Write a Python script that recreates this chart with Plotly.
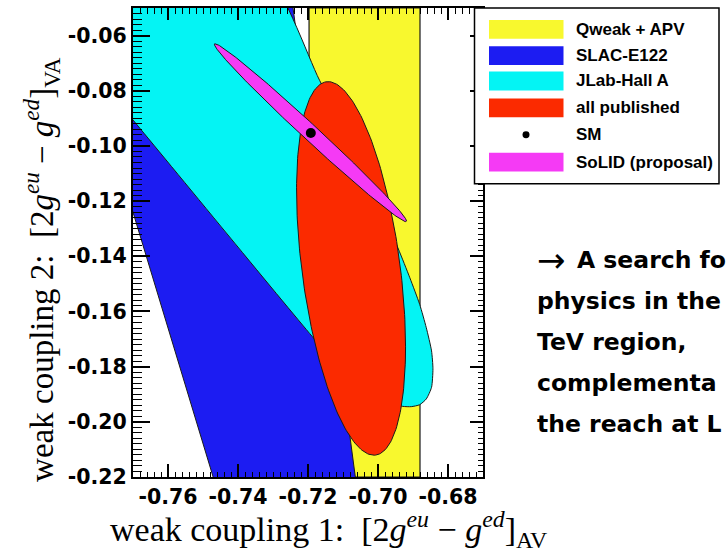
import numpy as np
import plotly.graph_objects as go

# ---------------- data ----------------
x_range = [-0.77, -0.67]
y_range = [-0.22, -0.05]
x_tickvals = [-0.76, -0.74, -0.72, -0.70, -0.68]
x_ticktext = ["-0.76", "-0.74", "-0.72", "-0.70", "-0.68"]
y_tickvals = [-0.22, -0.20, -0.18, -0.16, -0.14, -0.12, -0.10, -0.08, -0.06]
y_ticktext = ["-0.22", "-0.20", "-0.18", "-0.16", "-0.14", "-0.12", "-0.10", "-0.08", "-0.06"]
minor_step = 0.002

# Qweak + APV : vertical band in coupling 1
qweak_x = [-0.7197, -0.6880]

# SLAC-E122 allowed region (boundary polygon, extends past the frame)
slac_x = [-0.7916, -0.7260, -0.7056, -0.7451]
slac_y = [-0.0335, -0.0335, -0.2284, -0.2284]

# JLab-Hall A allowed region (boundary polygon)
jlab_x = [-0.7967, -0.7344, -0.7167, -0.7052, -0.6943, -0.6909, -0.6881, -0.6862,
          -0.6847, -0.6843, -0.6847, -0.6862, -0.6881, -0.6905, -0.6929, -0.6967,
          -0.7009, -0.7058, -0.7115, -0.7181, -0.7700, -0.7967]
jlab_y = [-0.0335, -0.0335, -0.0762, -0.1057, -0.1370, -0.1478, -0.1574, -0.1659,
          -0.1743, -0.1808, -0.1875, -0.1917, -0.1938, -0.1945, -0.1944, -0.1931,
          -0.1909, -0.1866, -0.1793, -0.1701, -0.0906, -0.0503]

# all published : ellipse (centre, half extents, correlation)
pub_center = (-0.7077, -0.1444)
pub_half = (0.01557, 0.0677)
pub_rho = -0.42

# SoLID (proposal) : ellipse
solid_center = (-0.7193, -0.0952)
solid_half = (0.02745, 0.03226)
solid_rho = -0.9929

# Standard Model point
sm_x = [-0.7192]
sm_y = [-0.0953]

legend_labels = ["Qweak + APV", "SLAC-E122", "JLab-Hall A", "all published", "SM", "SoLID (proposal)"]
slide_arrow = "\u2192"
slide_text = ["A search fo", "physics in the", "TeV region,", "complementa", "the reach at L"]

# ---------------- styles ----------------
C_YEL = "#F8F82E"
C_BLU = "#1C1CF2"
C_CYA = "#04F4F4"
C_RED = "#FB2A00"
C_MAG = "#F53AF5"
EDGE = "#1a1a1a"


def ellipse(center, half, rho, n=240):
    t = np.linspace(0, 2 * np.pi, n)
    x = center[0] + half[0] * np.cos(t)
    y = center[1] + half[1] * (rho * np.cos(t) + np.sqrt(1 - rho ** 2) * np.sin(t))
    return x, y


fig = go.Figure()

# yellow band spans the full height of the frame
fig.add_trace(go.Scatter(
    x=[qweak_x[0], qweak_x[1], qweak_x[1], qweak_x[0], qweak_x[0]],
    y=[y_range[0], y_range[0], y_range[1], y_range[1], y_range[0]],
    fill="toself", fillcolor=C_YEL, mode="lines",
    line=dict(color=EDGE, width=1.2), hoverinfo="skip"))

fig.add_trace(go.Scatter(
    x=slac_x + slac_x[:1], y=slac_y + slac_y[:1],
    fill="toself", fillcolor=C_BLU, mode="lines",
    line=dict(color=EDGE, width=1), hoverinfo="skip"))

fig.add_trace(go.Scatter(
    x=jlab_x + jlab_x[:1], y=jlab_y + jlab_y[:1],
    fill="toself", fillcolor=C_CYA, mode="lines",
    line=dict(color=EDGE, width=1, shape="spline", smoothing=0.6), hoverinfo="skip"))

ex, ey = ellipse(pub_center, pub_half, pub_rho)
fig.add_trace(go.Scatter(x=ex, y=ey, fill="toself", fillcolor=C_RED, mode="lines",
                         line=dict(color=EDGE, width=1), hoverinfo="skip"))

ex, ey = ellipse(solid_center, solid_half, solid_rho)
fig.add_trace(go.Scatter(x=ex, y=ey, fill="toself", fillcolor=C_MAG, mode="lines",
                         line=dict(color=EDGE, width=1), hoverinfo="skip"))

fig.add_trace(go.Scatter(x=sm_x, y=sm_y, mode="markers",
                         marker=dict(color="black", size=10), hoverinfo="skip"))

# invisible trace so the mirrored tick axes (top / right) are drawn
fig.add_trace(go.Scatter(x=[None], y=[None], xaxis="x2", yaxis="y2", hoverinfo="skip"))

# ---------------- layout ----------------
L, T, W, H = 133, 6, 350, 471
FW, FH = 726, 557


def PX(px):
    return (px - L) / W


def PY(py):
    return (T + H - py) / H


tickfont = dict(family="DejaVu Sans", size=20.5, color="black", weight="bold")
common = dict(showgrid=False, zeroline=False, ticks="inside", tickcolor="black")

fig.update_layout(
    width=FW, height=FH,
    margin=dict(l=L, r=FW - L - W, t=T, b=FH - T - H),
    paper_bgcolor="white", plot_bgcolor="white", showlegend=False,
    xaxis=dict(range=x_range, tickmode="array", tickvals=x_tickvals, ticktext=x_ticktext,
               ticklen=13, tickwidth=2, tickfont=tickfont,
               minor=dict(tickmode="linear", tick0=x_range[0], dtick=minor_step, ticks="inside",
                          ticklen=5, tickwidth=1.4, tickcolor="black"),
               showline=True, linewidth=2, linecolor="black", mirror=True, **common),
    yaxis=dict(range=y_range, tickmode="array", tickvals=y_tickvals, ticktext=y_ticktext,
               ticklen=17, tickwidth=2, tickfont=tickfont,
               minor=dict(tickmode="linear", tick0=y_range[0], dtick=minor_step, ticks="inside",
                          ticklen=9, tickwidth=1.4, tickcolor="black"),
               showline=True, linewidth=2, linecolor="black", mirror=True, **common),
    xaxis2=dict(range=x_range, overlaying="x", side="top", anchor="y", tickmode="array",
                tickvals=x_tickvals, showticklabels=False, ticklen=12, tickwidth=2,
                minor=dict(tickmode="linear", tick0=x_range[0], dtick=minor_step, ticks="inside",
                           ticklen=6, tickwidth=1.4, tickcolor="black"),
                showline=False, **common),
    yaxis2=dict(range=y_range, overlaying="y", side="right", anchor="x", tickmode="array",
                tickvals=y_tickvals, showticklabels=False, ticklen=13, tickwidth=2,
                minor=dict(tickmode="linear", tick0=y_range[0], dtick=minor_step, ticks="inside",
                           ticklen=5, tickwidth=1.4, tickcolor="black"),
                showline=False, **common),
)

# ---------------- legend (drawn in pixel layout) ----------------
shapes = [dict(type="rect", xref="paper", yref="paper", layer="above",
               x0=PX(474.5), x1=PX(719), y0=PY(182.5), y1=PY(6),
               fillcolor="white", line=dict(color="black", width=1.5))]
sw_colors = [C_YEL, C_BLU, C_CYA, C_RED, None, C_MAG]
row_y = [27.5, 53.8, 79.3, 106.3, 133.3, 160.8]
for col, ry in zip(sw_colors, row_y):
    if col is None:
        shapes.append(dict(type="circle", xref="paper", yref="paper", layer="above",
                           x0=PX(522.5), x1=PX(529.5), y0=PY(ry + 3.5), y1=PY(ry - 3.5),
                           fillcolor="black", line=dict(width=0)))
    else:
        shapes.append(dict(type="rect", xref="paper", yref="paper", layer="above",
                           x0=PX(489), x1=PX(563.5), y0=PY(ry + 9.5), y1=PY(ry - 9.5),
                           fillcolor=col, line=dict(width=0)))

annotations = []
for lab, ry in zip(legend_labels, row_y):
    annotations.append(dict(text=lab, xref="paper", yref="paper", x=PX(574), y=PY(ry),
                            xanchor="left", yanchor="middle", showarrow=False,
                            font=dict(family="Liberation Sans", size=17, color="black", weight="bold")))

# slide text on the right
slide_font = dict(family="DejaVu Sans", size=23.5, color="black", weight="bold")
annotations.append(dict(text=slide_arrow, xref="paper", yref="paper", x=PX(535), y=PY(259),
                        xanchor="left", yanchor="middle", showarrow=False,
                        font=dict(family="DejaVu Sans", size=34, color="black")))
for i, line in enumerate(slide_text):
    x0 = 575 if i == 0 else 535
    annotations.append(dict(text=line, xref="paper", yref="paper", x=PX(x0), y=PY(259 + 41.2 * i),
                            xanchor="left", yanchor="middle", showarrow=False, font=slide_font))

# axis titles
annotations.append(dict(
    text="weak coupling 1:  [2<i>g</i><sup><i>eu</i></sup> \u2212 <i>g</i><sup><i>ed</i></sup>]<sub>AV</sub>",
    xref="paper", yref="paper", x=PX(328), y=PY(530), xanchor="center", yanchor="middle",
    showarrow=False, font=dict(family="Liberation Serif", size=34, color="black")))
annotations.append(dict(
    text="weak coupling 2:  [2<i>g</i><sup><i>eu</i></sup> \u2212 <i>g</i><sup><i>ed</i></sup>]<sub>VA</sub>",
    xref="paper", yref="paper", x=PX(42), y=PY(269), xanchor="center", yanchor="middle",
    textangle=-90, showarrow=False, font=dict(family="Liberation Serif", size=33, color="black")))

fig.update_layout(shapes=shapes, annotations=annotations)

fig.write_html("out.html", config={"displayModeBar": False},
               post_script="document.body.style.margin='0';")
